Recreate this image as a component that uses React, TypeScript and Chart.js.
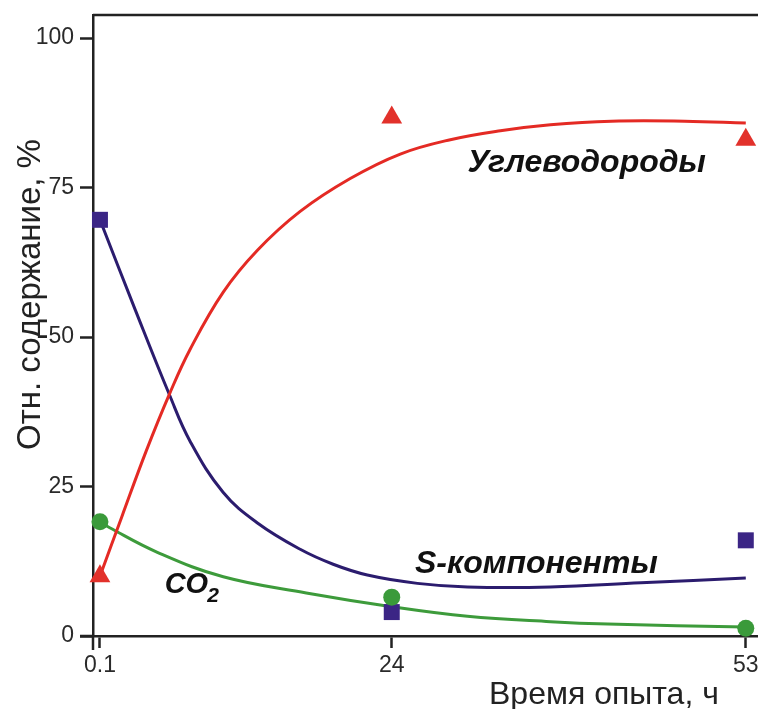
import React, { useEffect, useRef } from 'react';
import { Chart, registerables } from 'chart.js';

Chart.register(...registerables);

// Axis ticks
const xTickValues = [0.1, 24, 53];
const yTickValues = [0, 25, 50, 75, 100];

// Measured points (time, h)
const sampleTimes = [0.1, 24, 53];
const hydrocarbons = [10, 86.7, 83];
const sComponents = [69.6, 4.0, 16.0];
const co2 = [19.1, 6.5, 1.3];

// Fitted trend curves
const hydrocarbonFitT = [0.1, 1.9, 3.9, 5.8, 7.5, 10.2, 13, 16.5, 20.6, 24.7, 28.8, 32.9, 37, 42, 48, 53];
const hydrocarbonFitV = [10, 20, 31, 40.5, 48, 57.5, 64.5, 71, 76.5, 80.6, 83, 84.5, 85.5, 86.1, 86.1, 85.8];

const sComponentFitT = [0.1, 3, 5.8, 7.5, 10.2, 13, 16.5, 19.2, 22, 26.1, 30.2, 37, 44.4, 53];
const sComponentFitV = [69.6, 54.5, 40.3, 32.5, 24, 18.9, 14.5, 12.0, 10.2, 8.8, 8.2, 8.2, 8.9, 9.7];

const co2FitT = [0.1, 0.9, 4.8, 10.2, 17, 24, 30.2, 37, 41.7, 53];
const co2FitV = [19.1, 18.1, 14.0, 9.9, 7.2, 4.9, 3.3, 2.4, 2.0, 1.5];

const FONT = '"Liberation Sans", Arial, sans-serif';
const AXIS_COLOR = '#222';

const RED_LINE = '#e42a24';
const RED_MARK = '#e2312b';
const NAVY_LINE = '#2b1c6e';
const NAVY_MARK = '#3b2585';
const GREEN_LINE = '#3d9b3b';
const GREEN_MARK = '#3a9a3a';

const pts = (xs: number[], ys: number[]) => xs.map((t, i) => ({ x: t, y: ys[i] }));

const decorPlugin = {
  id: 'decor',
  afterDraw(chart: any) {
    const { ctx, chartArea: a, scales } = chart;
    const x = scales.x;
    const y = scales.y;
    ctx.save();
    ctx.strokeStyle = AXIS_COLOR;
    ctx.lineWidth = 2.5;
    ctx.beginPath();
    ctx.moveTo(a.left, a.top);
    ctx.lineTo(a.right, a.top);
    ctx.moveTo(a.left - 13, a.bottom);
    ctx.lineTo(a.left, a.bottom);
    ctx.moveTo(a.left, a.bottom);
    ctx.lineTo(a.left, a.bottom + 14);
    ctx.stroke();

    // axis titles
    ctx.fillStyle = '#222';
    ctx.font = `32px ${FONT}`;
    ctx.textAlign = 'left';
    ctx.textBaseline = 'alphabetic';
    ctx.fillText('Время опыта, ч', 489, 704);

    ctx.save();
    ctx.translate(40, 450);
    ctx.rotate(-Math.PI / 2);
    ctx.font = `33px ${FONT}`;
    ctx.fillText('Отн. содержание, %', 0, 0);
    ctx.restore();

    // series captions
    ctx.fillStyle = '#111';
    ctx.font = `italic bold 32px ${FONT}`;
    ctx.fillText('Углеводороды', x.getPixelForValue(30.2), y.getPixelForValue(77.6));
    ctx.fillText('S-компоненты', x.getPixelForValue(25.9), y.getPixelForValue(10.5));

    const cx = x.getPixelForValue(5.4);
    const cy = y.getPixelForValue(7.2);
    ctx.font = `italic bold 29px ${FONT}`;
    ctx.fillText('CO', cx, cy);
    const w = ctx.measureText('CO').width;
    ctx.font = `italic bold 21px ${FONT}`;
    ctx.fillText('2', cx + w - 1, cy + 9);
    ctx.restore();
  },
};

const noPadding = (s: any) => {
  s.paddingLeft = 0;
  s.paddingRight = 0;
  s.paddingTop = 0;
  s.paddingBottom = 0;
};

export default function App() {
  const ref = useRef<HTMLCanvasElement>(null);

  useEffect(() => {
    const trend = {
      type: 'line',
      borderWidth: 3,
      pointRadius: 0,
      tension: 0.4,
      fill: false,
    };
    const chart = new Chart(ref.current as HTMLCanvasElement, {
      type: 'scatter',
      data: {
        datasets: [
          {
            label: 'CO2',
            data: pts(sampleTimes, co2),
            pointStyle: 'circle',
            pointRadius: 8.5,
            backgroundColor: GREEN_MARK,
            borderColor: GREEN_MARK,
            borderWidth: 0,
            order: 0,
          },
          {
            label: 'S-компоненты',
            data: pts(sampleTimes, sComponents),
            pointStyle: 'rect',
            pointRadius: 11.3,
            backgroundColor: NAVY_MARK,
            borderColor: NAVY_MARK,
            borderWidth: 0,
            order: 1,
          },
          {
            label: 'Углеводороды',
            data: pts(sampleTimes, hydrocarbons),
            pointStyle: 'triangle',
            pointRadius: 12,
            backgroundColor: RED_MARK,
            borderColor: RED_MARK,
            borderWidth: 0,
            order: 2,
          },
          {
            ...trend,
            label: 'Углеводороды (тренд)',
            data: pts(hydrocarbonFitT, hydrocarbonFitV),
            borderColor: RED_LINE,
            order: 3,
          },
          {
            ...trend,
            label: 'S-компоненты (тренд)',
            data: pts(sComponentFitT, sComponentFitV),
            borderColor: NAVY_LINE,
            order: 4,
          },
          {
            ...trend,
            label: 'CO2 (тренд)',
            data: pts(co2FitT, co2FitV),
            borderColor: GREEN_LINE,
            order: 5,
          },
        ] as any,
      },
      options: {
        animation: false,
        responsive: true,
        maintainAspectRatio: false,
        clip: false as any,
        layout: { autoPadding: false, padding: { top: 15, right: 0, bottom: 0, left: 0 } },
        plugins: {
          legend: { display: false },
          tooltip: { enabled: false },
        },
        scales: {
          x: {
            type: 'linear',
            min: -0.47,
            max: 54.0,
            afterBuildTicks: (s: any) => {
              s.ticks = xTickValues.map((v) => ({ value: v }));
            },
            afterFit: (s: any) => {
              s.height = 73;
              noPadding(s);
            },
            grid: {
              display: true,
              drawOnChartArea: false,
              drawTicks: true,
              tickLength: 12,
              tickWidth: 2.5,
              tickColor: AXIS_COLOR,
            },
            border: { display: true, color: AXIS_COLOR, width: 2.5 },
            ticks: {
              autoSkip: false,
              maxRotation: 0,
              padding: 4,
              color: '#2a2a2a',
              font: { family: FONT, size: 23 },
              callback: (v: any) => String(v),
            },
          },
          y: {
            type: 'linear',
            min: 0,
            max: 103.85,
            afterBuildTicks: (s: any) => {
              s.ticks = yTickValues.map((v) => ({ value: v }));
            },
            afterFit: (s: any) => {
              s.width = 93;
              noPadding(s);
            },
            grid: {
              display: true,
              drawOnChartArea: false,
              drawTicks: true,
              tickLength: 13,
              tickWidth: 2.5,
              tickColor: AXIS_COLOR,
            },
            border: { display: true, color: AXIS_COLOR, width: 2.5 },
            ticks: {
              padding: 6,
              color: '#2a2a2a',
              font: { family: FONT, size: 23 },
              callback: (v: any) => String(v),
            },
          },
        },
      },
      plugins: [decorPlugin],
    });
    return () => chart.destroy();
  }, []);

  return (
    <div style={{ position: 'absolute', left: 0, top: 0, width: 758, height: 709, background: '#fff' }}>
      <canvas ref={ref} />
    </div>
  );
}
